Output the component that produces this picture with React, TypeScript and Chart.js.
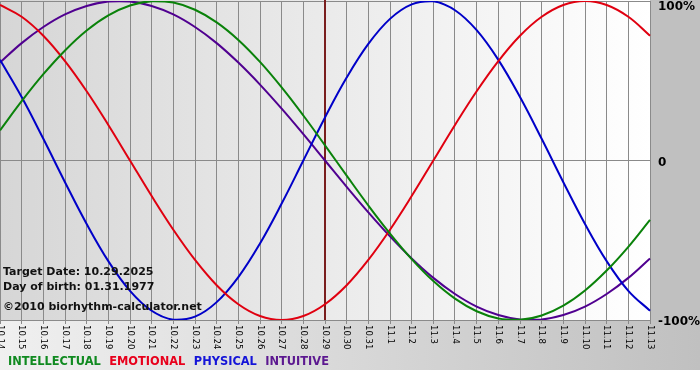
import React, { useEffect, useRef } from "react";
import { Chart, registerables } from "chart.js";

Chart.register(...registerables);

// ---- data ----
const days = [
  "10.14", "10.15", "10.16", "10.17", "10.18", "10.19", "10.20", "10.21", "10.22", "10.23",
  "10.24", "10.25", "10.26", "10.27", "10.28", "10.29", "10.30", "10.31", "11.1", "11.2",
  "11.3", "11.4", "11.5", "11.6", "11.7", "11.8", "11.9", "11.10", "11.11", "11.12", "11.13",
];

const intellectual = [
  0.189, 0.372, 0.541, 0.690, 0.815, 0.910, 0.972, 0.999, 0.990, 0.945,
  0.866, 0.756, 0.618, 0.458, 0.282, 0.095, -0.095, -0.282, -0.458, -0.618,
  -0.756, -0.866, -0.945, -0.990, -0.999, -0.972, -0.910, -0.815, -0.690, -0.541, -0.372,
];

const emotional = [
  0.975, 0.901, 0.782, 0.623, 0.434, 0.223, 0.0, -0.223, -0.434, -0.623,
  -0.782, -0.901, -0.975, -1.0, -0.975, -0.901, -0.782, -0.623, -0.434, -0.223,
  0.0, 0.223, 0.434, 0.623, 0.782, 0.901, 0.975, 1.0, 0.975, 0.901, 0.782,
];

const physical = [
  0.631, 0.398, 0.136, -0.136, -0.398, -0.631, -0.817, -0.942, -0.998, -0.979,
  -0.888, -0.731, -0.520, -0.270, 0.0, 0.270, 0.520, 0.731, 0.888, 0.979,
  0.998, 0.942, 0.817, 0.631, 0.398, 0.136, -0.136, -0.398, -0.631, -0.817, -0.942,
];

const intuitive = [
  0.614, 0.736, 0.837, 0.916, 0.969, 0.997, 0.997, 0.969, 0.916, 0.837,
  0.736, 0.614, 0.476, 0.325, 0.165, 0.0, -0.165, -0.325, -0.476, -0.614,
  -0.736, -0.837, -0.916, -0.969, -0.997, -0.997, -0.969, -0.916, -0.837, -0.736, -0.614,
];

const yTickValues = [1, 0, -1];
const yTickLabels = ["100%", "0", "-100%"];

const seriesNames = ["INTELLECTUAL", "EMOTIONAL", "PHYSICAL", "INTUITIVE"];
const lineColors = ["#0a820a", "#e00010", "#0000c8", "#500090"];
const legendColors = ["#108a20", "#e8001c", "#1414d8", "#5c1890"];

const infoLines = ["Target Date: 10.29.2025", "Day of birth: 01.31.1977", "©2010 biorhythm-calculator.net"];
const targetDay = "10.29";

const decorPlugin = {
  id: "decor",
  beforeDraw(chart: any) {
    const { ctx, width, height, chartArea } = chart;
    const a = chartArea;
    ctx.save();
    ctx.fillStyle = "#ffffff";
    ctx.fillRect(0, 0, width, height);
    ctx.fillStyle = "#c0c0c0";
    ctx.fillRect(a.right, 0, width - a.right, a.bottom);
    const gb = ctx.createLinearGradient(0, 0, width, 0);
    gb.addColorStop(0, "#f0f0f0");
    gb.addColorStop(1, "#c0c0c0");
    ctx.fillStyle = gb;
    ctx.fillRect(0, a.bottom, width, 50);
    const gp = ctx.createLinearGradient(a.left, 0, a.right, 0);
    gp.addColorStop(0, "#d6d6d6");
    gp.addColorStop(1, "#ffffff");
    ctx.fillStyle = gp;
    ctx.fillRect(0, 0, a.right, a.bottom);
    ctx.restore();
  },
  beforeDatasetsDraw(chart: any) {
    const { ctx, chartArea } = chart;
    const xs = chart.scales.x;
    const x = xs.getPixelForValue(days.indexOf(targetDay));
    ctx.save();
    ctx.strokeStyle = "#7a1e1e";
    ctx.lineWidth = 2;
    ctx.beginPath();
    ctx.moveTo(x, 0);
    ctx.lineTo(x, chartArea.bottom);
    ctx.stroke();
    ctx.restore();
  },
  afterDraw(chart: any) {
    const { ctx, chartArea } = chart;
    const xs = chart.scales.x;
    const ys = chart.scales.y;
    ctx.save();
    ctx.fillStyle = "#000000";
    ctx.font = "8.5px 'DejaVu Sans'";
    ctx.textAlign = "left";
    ctx.textBaseline = "middle";
    days.forEach((d, i) => {
      const x = xs.getPixelForTick(i);
      ctx.save();
      ctx.translate(x, chartArea.bottom + 5);
      ctx.rotate(Math.PI / 2);
      ctx.fillText(d, 0, 0);
      ctx.restore();
    });
    ctx.font = "bold 12px 'DejaVu Sans'";
    ctx.fillStyle = "#000000";
    yTickValues.forEach((v, i) => {
      const y = Math.max(ys.getPixelForValue(v) + 2, 7);
      ctx.fillText(yTickLabels[i], chartArea.right + 8, y);
    });
    ctx.font = "bold 11.4px 'DejaVu Sans'";
    let lx = 8;
    seriesNames.forEach((n, i) => {
      ctx.fillStyle = legendColors[i];
      ctx.fillText(n, lx, 362);
      lx += ctx.measureText(n).width + 8.5;
    });
    ctx.font = "bold 11px 'DejaVu Sans'";
    ctx.fillStyle = "#111111";
    const iy = [272, 287, 307];
    infoLines.forEach((t, i) => ctx.fillText(t, 3, iy[i]));
    ctx.restore();
  },
};

export default function App() {
  const ref = useRef<HTMLCanvasElement | null>(null);
  useEffect(() => {
    if (!ref.current) return;
    const series = [intellectual, emotional, physical, intuitive];
    const chart = new Chart(ref.current, {
      type: "line",
      data: {
        labels: days,
        datasets: series.map((s, i) => ({
          label: seriesNames[i],
          data: s,
          borderColor: lineColors[i],
          borderWidth: 2,
          pointRadius: 0,
          tension: 0.4,
          fill: false,
        })),
      },
      options: {
        responsive: false,
        animation: false,
        layout: { padding: { top: 1, left: 0, right: 0, bottom: 0 } },
        plugins: { legend: { display: false }, tooltip: { enabled: false } },
        scales: {
          x: {
            type: "category",
            offset: false,
            ticks: { display: false },
            grid: { color: "#8a8a8a", lineWidth: 1, drawTicks: true, tickLength: 4 },
            border: { color: "#8a8a8a" },
            afterFit: (s: any) => {
              s.height = 60;
            },
          },
          y: {
            position: "right",
            min: -1,
            max: 1,
            ticks: { display: false, stepSize: 1 },
            grid: { color: "#8a8a8a", lineWidth: 1, drawTicks: false },
            border: { color: "#8a8a8a" },
            afterFit: (s: any) => {
              s.width = 50;
            },
          },
        },
      },
      plugins: [decorPlugin],
    });
    return () => chart.destroy();
  }, []);
  return (
    <div style={{ position: "absolute", left: 0, top: 0, width: 700, height: 380 }}>
      <canvas ref={ref} width={700} height={380} style={{ display: "block" }} />
    </div>
  );
}
